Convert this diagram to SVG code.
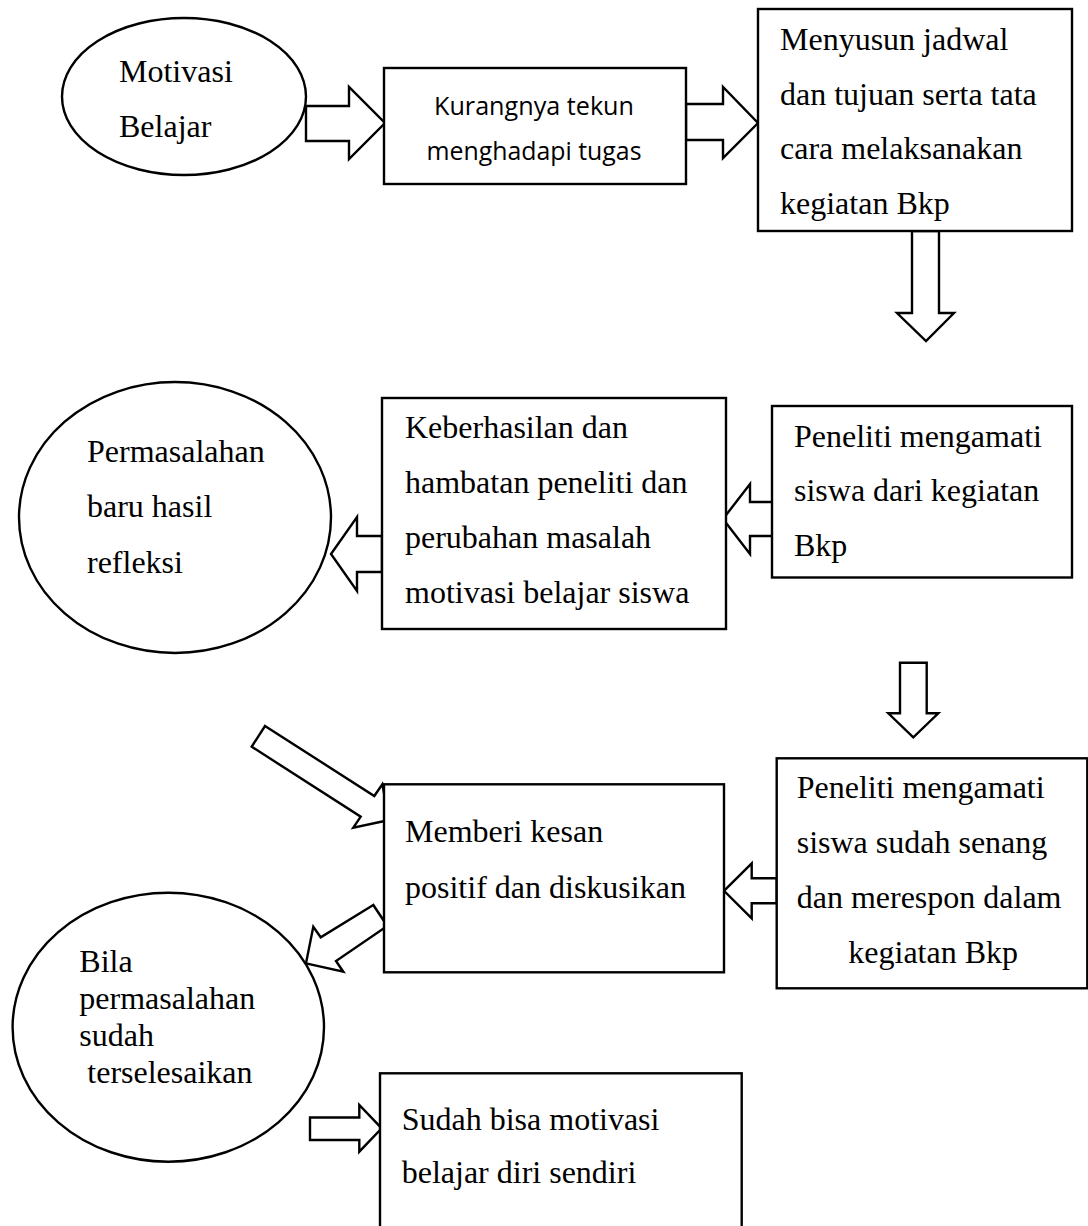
<svg xmlns="http://www.w3.org/2000/svg" width="1088" height="1226" viewBox="0 0 1088 1226">
<style>
.s{fill:#fff;stroke:#000;stroke-width:2.4;stroke-linejoin:miter}
.t{font-family:"Liberation Serif","Times New Roman",serif;font-size:32px;fill:#000}
.c{font-family:"Open Sans","Liberation Sans",sans-serif;font-size:26px;fill:#000}
</style>
<rect width="1088" height="1226" fill="#fff"/>
<g id="connectors">
<polygon class="s" points="306,106 349,106 349,87 385,123 349,159 349,141 306,141"/>
<polygon class="s" points="686,104 723,104 723,87 758,123 723,158 723,140 686,140"/>
<polygon class="s" points="912,231 939,231 939,313 954,313 926,341 897,313 912,313"/>
<polygon class="s" points="382,536 357,536 357,517 331,554 357,591 357,572 382,572"/>
<polygon class="s" points="775,502 750,502 750,484 723,519 750,554 750,536 775,536"/>
<polygon class="s" points="900,662.7 926.7,662.7 926.7,713.3 938.3,713.3 913.3,737.3 888.3,713.3 900,713.3"/>
<polygon class="s" points="776.7,878.3 751.7,878.3 751.7,863.3 724,890.8 751.7,918.3 751.7,903.3 776.7,903.3"/>
<polygon class="s" points="265,726 374.3,796 382.3,784.3 389.3,820 353.3,827.7 360.7,816.7 251.7,746.7"/>
<polygon class="s" points="373.3,905 320.7,937.3 313.3,926.7 306,963.3 343.3,971.7 336,961 387.3,926"/>
<polygon class="s" points="310,1117.5 359.3,1117.5 359.3,1105 381.7,1128.3 359.3,1151.7 359.3,1140 310,1140"/>
</g>
<g id="motivasi">
<ellipse class="s" cx="184" cy="96.5" rx="122" ry="78.5"/>
<text class="t" x="119" y="82">Motivasi</text>
<text class="t" x="119" y="137">Belajar</text>
</g>
<g id="kurangnya">
<rect class="s" x="384" y="68" width="302" height="116"/>
<text class="c" x="534" y="115" text-anchor="middle" textLength="200" lengthAdjust="spacingAndGlyphs">Kurangnya tekun</text>
<text class="c" x="534" y="160" text-anchor="middle" textLength="215" lengthAdjust="spacingAndGlyphs">menghadapi tugas</text>
</g>
<g id="menyusun">
<rect class="s" x="758" y="9" width="314" height="222"/>
<text class="t" x="780" y="50">Menyusun jadwal</text>
<text class="t" x="780" y="104.5">dan tujuan serta tata</text>
<text class="t" x="780" y="159">cara melaksanakan</text>
<text class="t" x="780" y="213.5">kegiatan Bkp</text>
</g>
<g id="permasalahan">
<ellipse class="s" cx="175" cy="517.5" rx="156" ry="135.5"/>
<text class="t" x="87" y="462">Permasalahan</text>
<text class="t" x="87" y="517">baru hasil</text>
<text class="t" x="87" y="573">refleksi</text>
</g>
<g id="keberhasilan">
<rect class="s" x="382" y="398" width="344" height="231"/>
<text class="t" x="405" y="438">Keberhasilan dan</text>
<text class="t" x="405" y="493">hambatan peneliti dan</text>
<text class="t" x="405" y="548">perubahan masalah</text>
<text class="t" x="405" y="603">motivasi belajar siswa</text>
</g>
<g id="peneliti1">
<rect class="s" x="772" y="406" width="300" height="171.5"/>
<text class="t" x="794" y="446.5">Peneliti mengamati</text>
<text class="t" x="794" y="501">siswa dari kegiatan</text>
<text class="t" x="794" y="556">Bkp</text>
</g>
<g id="peneliti2">
<rect class="s" x="776.7" y="758.3" width="310.6" height="230"/>
<text class="t" x="796.7" y="798.3">Peneliti mengamati</text>
<text class="t" x="796.7" y="853.3">siswa sudah senang</text>
<text class="t" x="796.7" y="908.3">dan merespon dalam</text>
<text class="t" x="848.3" y="963.3">kegiatan Bkp</text>
</g>
<g id="memberi">
<rect class="s" x="384" y="784.3" width="340" height="188"/>
<text class="t" x="405" y="842">Memberi kesan</text>
<text class="t" x="405" y="898">positif dan diskusikan</text>
</g>
<g id="bila">
<ellipse class="s" cx="168.3" cy="1027.2" rx="155.7" ry="134.5"/>
<text class="t" x="79.3" y="971.5">Bila</text>
<text class="t" x="79.3" y="1008.5">permasalahan</text>
<text class="t" x="79.3" y="1045.5">sudah</text>
<text class="t" x="87.3" y="1082.5">terselesaikan</text>
</g>
<g id="sudah">
<rect class="s" x="380" y="1073.3" width="361.7" height="200"/>
<text class="t" x="401.7" y="1130">Sudah bisa motivasi</text>
<text class="t" x="401.7" y="1183.3">belajar diri sendiri</text>
</g>
</svg>
